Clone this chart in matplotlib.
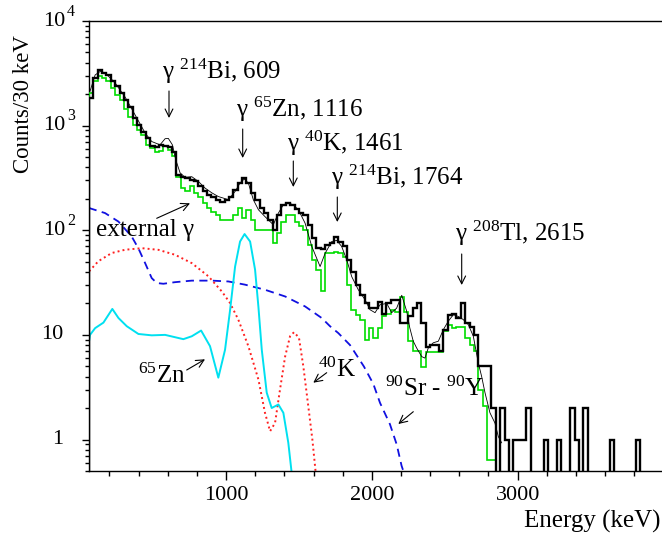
import numpy as np
import matplotlib
matplotlib.use("Agg")
import matplotlib.pyplot as plt

plt.rcParams['font.family'] = ['Liberation Serif', 'DejaVu Serif']
plt.rcParams['mathtext.fontset'] = 'custom'
plt.rcParams['mathtext.rm'] = 'Liberation Serif'
plt.rcParams['mathtext.it'] = 'Liberation Serif:italic'
plt.rcParams['mathtext.bf'] = 'Liberation Serif:bold'

# ---------------- data ----------------
bin_width = 30
first_edge = 60  # keV, measured spectrum bins
measured_counts = [
    1830, 2850, 3385, 3200, 3050, 2670, 2370, 2030, 1760, 1520,
    1170, 1010, 870, 755, 640, 625, 655, 640, 625, 565,
    339, 326, 313, 303, 298, 262, 235, 218, 207, 196,
    185, 196, 209, 244, 280, 313, 285, 228, 196, 163,
    146, 126, 101, 140, 175, 182, 175, 160, 146, 141,
    113, 84, 67, 66, 73, 76, 87, 78, 70, 52,
    40, 30, 24, 20, 18, 18, 20.5, 16, 20, 21.7,
    21.7, 13, 13, 15, 18, 20, 13, 7.6, 8, 8,
    7, 11.2, 15.6, 16, 14.6, 20.3, 13, 12, 10, 5,
    5, 5, 2, 0, 2, 1, 0, 1, 1, 1,
    2, 0, 0, 0, 1, 0, 0, 1, 0, 0,
    2, 1, 0, 2, 0, 0, 0, 0, 0, 1,
    0, 0, 0, 0, 0, 1, 0, 0, 0, 0,
    0,
]

green_first_edge = 30  # keV, spectrum without external gamma
no_external_counts = [
    850,
    2030, 2670, 2990, 2850, 2670, 2280, 1970, 1760, 1450, 1210,
    1010, 912, 817, 655, 610, 565, 575, 640, 590, 510,
    326, 253, 235, 262, 228, 210, 182, 163, 150, 141,
    126, 126, 126, 140, 163, 130, 157, 126, 101, 101,
    101, 101, 76, 95, 121, 141, 141, 121, 110, 101,
    72, 52, 42, 26, 60, 60, 62, 60, 56, 30,
    17.4, 15.6, 14, 9, 11.7, 9.4, 11.7, 15, 16, 17.4,
    16.5, 23, 16.5, 8.7, 7, 7, 4.9, 6.8, 6.8, 6.8,
    6.8, 10.8, 12.5, 11.7, 12, 12, 9.4, 8, 7, 3,
    2.1, 0.64, 0.64, 0, 0, 0, 0, 0, 0, 0,
    0, 0, 0, 0, 0, 0, 0, 0, 0, 0,
    0, 0, 0, 0, 0, 0, 0, 0, 0, 0,
    0, 0, 0, 0, 0, 0, 0, 0, 0, 0,
    0,
]

model_energy = [67, 102, 136, 170, 239, 307, 376, 445, 490, 547, 582, 604, 632, 655,
                685, 719, 765, 810, 856, 902, 947, 1016, 1062, 1096, 1125, 1153, 1187,
                1222, 1267, 1302, 1324, 1359, 1393, 1427, 1461, 1496, 1542, 1588, 1645,
                1679, 1725, 1759, 1793, 1828, 1862, 1907, 1953, 1987, 2022, 2056, 2102,
                2136, 2170, 2205, 2239, 2260, 2284, 2307, 2342, 2364, 2387, 2421, 2456,
                2490, 2524, 2559, 2593, 2627, 2662, 2696, 2730, 2753, 2776, 2810, 2844,
                2867, 2890]
model_counts = [2130, 3050, 3290, 3200, 2560, 1880, 1267, 850, 705, 655, 750, 755, 655, 471,
                353, 320, 325, 293, 253, 228, 210, 196, 235, 283, 309, 283, 196,
                157, 135, 121, 113, 146, 175, 182, 175, 157, 117, 70, 45,
                60, 78, 80, 70, 52, 36, 27, 21.7, 17.4, 16.3, 19.4, 20,
                16.3, 18, 23.9, 16.8, 11.7, 8.7, 7.5, 6.2, 6.0, 7.5, 8.4, 8.7,
                11.2, 13.5, 15.6, 15, 14, 12.5, 9.7, 5.4, 4.0, 2.8, 1.8, 1.44,
                1.07, 0.93]

sry_energy = [60, 67, 170, 262, 353, 399, 445, 490, 525, 570, 650, 765, 902, 1016,
              1130, 1267, 1405, 1542, 1656, 1713, 1770, 1850, 1945, 2010, 2056, 2124,
              2170, 2204, 2216]
sry_counts = [165, 162, 146, 121, 87, 67, 48.5, 34.9, 31.3, 30.8, 31.9, 33, 33, 32.4,
              30.2, 27, 23.3, 18.7, 14.5, 12.1, 10.4, 8.0, 5.0, 3.4, 2.24, 1.4,
              0.9, 0.56, 0.5]

k40_energy = [61, 124, 216, 307, 422, 536, 650, 765, 879, 971, 1027, 1084, 1153, 1222,
              1267, 1302, 1336, 1370, 1405, 1439, 1466, 1500, 1530, 1564, 1592, 1615]
k40_counts = [40.5, 50.6, 60.6, 65.1, 67.4, 65, 58.3, 48.5, 36.3, 26, 20.2, 14, 7.8, 3.74,
              1.8, 1.2, 1.44, 3.0, 6.2, 9.7, 10.6, 9.4, 5.0, 2.08, 1.0, 0.48]

zn65_energy = [62, 67, 102, 159, 220, 262, 319, 399, 490, 582, 707, 765, 829, 890, 947,
               993, 1027, 1062, 1096, 1127, 1165, 1199, 1222, 1245, 1279, 1313, 1359,
               1393, 1427, 1450]
zn65_counts = [9.0, 10, 11.6, 13.1, 17.7, 14.5, 12.1, 10.2, 9.9, 10, 9.1, 9.7, 11, 7.8, 3.9,
               7.2, 17, 45, 78, 92, 78, 42, 18.5, 7.2, 2.8, 2.0, 2.16,
               1.8, 0.93, 0.48]

x_range = (60, 3990)
y_range = (0.5, 1e4)
x_major = [1000, 2000, 3000]
x_major_labels = ["1000", "2000", "3000"]
y_decades = [1, 10, 100, 1000, 10000]
y_bases = ["1", "10", "10", "10", "10"]
y_exponents = ["", "", "2", "3", "4"]

# ---------------- figure ----------------
W, H = 662, 541
fig = plt.figure(figsize=(W / 100, H / 100), dpi=100)
ax = fig.add_axes([89 / W, 70 / H, 573 / W, 450 / H])


def fp(x, y):
    return (x / W, 1 - y / H)


def positive(v):
    v = np.asarray(v, dtype=float)
    return np.where(v > 0, v, 1e-3)


edges_m = first_edge + bin_width * np.arange(len(measured_counts) + 1)
edges_g = green_first_edge + bin_width * np.arange(len(no_external_counts) + 1)

ax.plot(sry_energy, sry_counts, color='#1010e0', lw=1.3, ls=(0, (4.5, 3)), zorder=2)
ax.plot(k40_energy, k40_counts, color='#ff2020', lw=1.4, ls=(0, (1, 1.6)), zorder=2)
ax.plot(zn65_energy, zn65_counts, color='#00e0f0', lw=1.4, zorder=2)
ax.stairs(positive(no_external_counts), edges_g, color='#00dd00', lw=1.2, zorder=3)
ax.stairs(positive(measured_counts), edges_m, color='black', lw=1.7, zorder=4)
ax.plot(model_energy, model_counts, color='black', lw=0.6, zorder=5)

ax.set_yscale('log')
ax.set_xlim(*x_range)
ax.set_ylim(*y_range)

ax.spines['right'].set_visible(False)
for s in ['top', 'left', 'bottom']:
    ax.spines[s].set_linewidth(1.0)

ax.set_xticks(x_major)
ax.set_xticklabels(x_major_labels, fontsize=16)
ax.set_xticks(np.arange(200, 4000, 200), minor=True)
ax.tick_params(axis='x', which='major', direction='out', length=6.5, width=1.0, pad=4)
ax.tick_params(axis='x', which='minor', direction='out', length=3.6, width=1.0)
ax.tick_params(axis='y', which='major', direction='out', length=5, width=1.0)
ax.tick_params(axis='y', which='minor', direction='out', length=2.9, width=1.0)
ax.tick_params(top=False, right=False)
ax.set_yticks(y_decades)
ax.set_yticklabels([])
ax.yaxis.set_minor_formatter(matplotlib.ticker.NullFormatter())

# y tick labels, ROOT-like with detached exponents
ytr = ax.get_yaxis_transform()
for val, base, ex in zip(y_decades, y_bases, y_exponents):
    if ex:
        ax.text((65 - 89) / 573, val, base, transform=ytr, ha='right', va='center',
                fontsize=16)
        ax.text((67 - 89) / 573, val * 10 ** 0.09, ex, transform=ytr, ha='left',
                va='center', fontsize=11.5)
    else:
        ax.text((63 - 89) / 573, val, base, transform=ytr, ha='right', va='center',
                fontsize=16)

fig.text(*fp(23.5, 173), "Counts/30 keV", rotation=90, ha='center', va='bottom',
         fontsize=16.5)
fig.text(*fp(660, 528), "Energy (keV)", ha='right', va='baseline', fontsize=18)

labels = [
    (162, 79, r"γ ${}^{214}$Bi, 609"),
    (236, 117, r"γ ${}^{65}$Zn, 1116"),
    (287, 151, r"γ ${}^{40}$K, 1461"),
    (331, 185, r"γ ${}^{214}$Bi, 1764"),
    (455, 241, r"γ ${}^{208}$Tl, 2615"),
    (96, 236, "external γ"),
    (138, 383, r"${}^{65}$Zn"),
    (318, 377, r"${}^{40}$K"),
    (385, 396, r"${}^{90}$Sr - ${}^{90}$Y"),
]
for x, y, s in labels:
    fig.text(*fp(x, y), s, ha='left', va='baseline', fontsize=18)

arrows = [
    ((169, 91), (169, 118)),
    ((242.7, 129), (242.7, 158)),
    ((293.3, 161), (293.3, 187)),
    ((337.3, 197), (337.3, 222)),
    ((461.7, 254), (461.7, 285)),
    ((156.7, 218.3), (190, 203.3)),
    ((186.7, 370), (205, 359.3)),
    ((326.7, 372.7), (313.3, 382.7)),
    ((413.3, 411.7), (398.3, 424)),
]
for (x0, y0), (x1, y1) in arrows:
    ax.annotate('', xy=fp(x1, y1), xytext=fp(x0, y0), xycoords='figure fraction',
                textcoords='figure fraction',
                arrowprops=dict(arrowstyle='->', color='black', lw=0.8,
                                shrinkA=0, shrinkB=0, mutation_scale=14))

fig.savefig('out.png', dpi=100)
